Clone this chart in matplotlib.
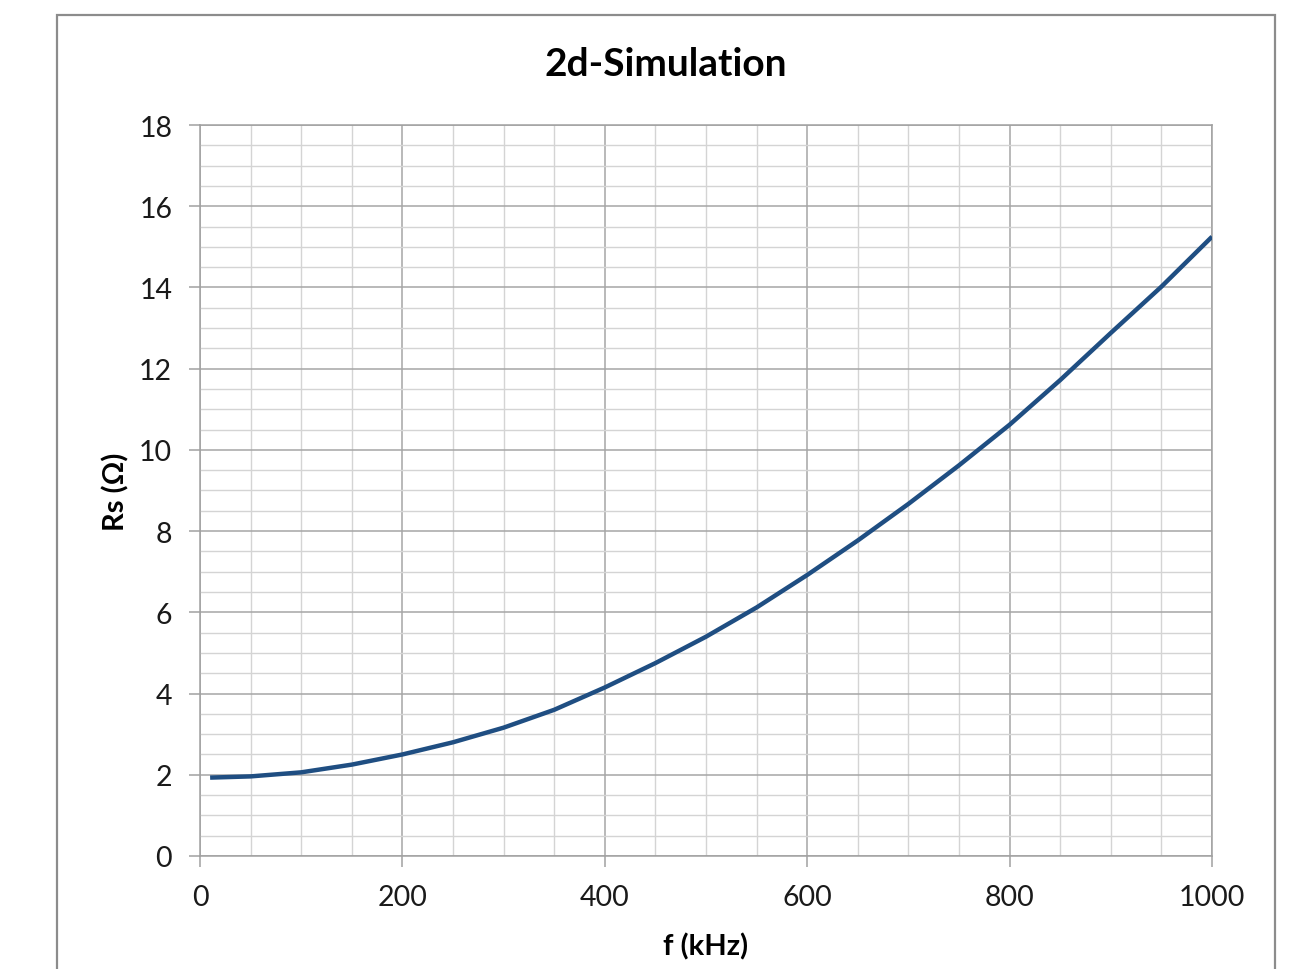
import numpy as np
import matplotlib.pyplot as plt
from matplotlib.patches import Rectangle
from matplotlib.ticker import MultipleLocator

# frequency (kHz) and series resistance (Ohm)
freq = [10, 50, 100, 150, 200, 250, 300, 350, 400, 450, 500,
        550, 600, 650, 700, 750, 800, 850, 900, 950, 1000]
rs = [1.93, 1.96, 2.06, 2.25, 2.5, 2.8, 3.16, 3.6, 4.15, 4.75, 5.4,
      6.12, 6.92, 7.77, 8.67, 9.62, 10.62, 11.72, 12.88, 14.02, 15.25]

x_ticks = [0, 200, 400, 600, 800, 1000]
y_ticks = [0, 2, 4, 6, 8, 10, 12, 14, 16, 18]

plt.rcParams['font.family'] = ['Lato', 'DejaVu Sans']


def main():
    fig = plt.figure(figsize=(12.97, 9.70), dpi=100)
    ax = fig.add_axes([0.1542, 0.1165, 0.7803, 0.7536])

    # outer chart border (bottom edge runs off the image)
    fig.patches.append(Rectangle((0.044, -0.02), 0.939, 1.0035, transform=fig.transFigure,
                                 fill=False, edgecolor='#8c8c8c', linewidth=1.6))

    ax.plot(freq, rs, color='#1f4e82', linewidth=3.2, solid_capstyle='butt',
            solid_joinstyle='round', zorder=3)

    ax.set_xlim(0, 1000)
    ax.set_ylim(0, 18)
    ax.set_xticks(x_ticks)
    ax.set_yticks(y_ticks)
    ax.xaxis.set_minor_locator(MultipleLocator(50))
    ax.yaxis.set_minor_locator(MultipleLocator(0.5))

    ax.grid(which='major', color='#a6a6a6', linewidth=1.1)
    ax.grid(which='minor', color='#d4d4d4', linewidth=1.0)
    ax.set_axisbelow(True)

    for s in ax.spines.values():
        s.set_color('#a0a0a0')
        s.set_linewidth(1.1)

    ax.tick_params(which='major', direction='out', length=8, width=1.1, color='#a0a0a0',
                   labelsize=20.5, labelcolor='#1a1a1a', pad=12)
    ax.tick_params(which='minor', length=0)

    ax.set_xlabel('f (kHz)', fontsize=21, fontweight='bold', labelpad=16)
    ax.set_ylabel('Rs (Ω)', fontsize=21, fontweight='bold', labelpad=7)
    fig.text(0.513, 0.934, '2d-Simulation', fontsize=28, fontweight='bold', ha='center', va='center')

    fig.savefig('out.png', dpi=100)


if __name__ == '__main__':
    main()
